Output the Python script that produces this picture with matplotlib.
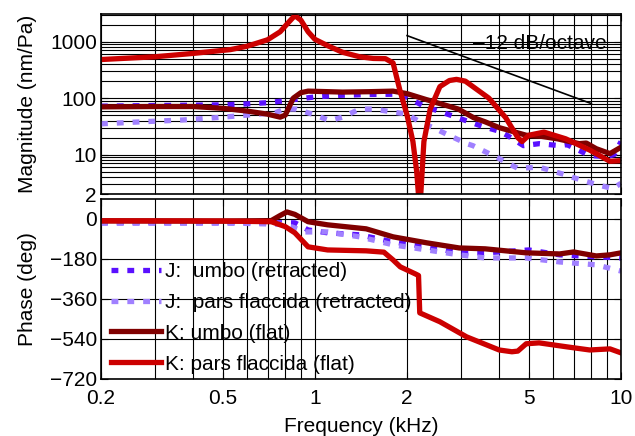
## Magnitude and phase of tympanic membrane responses
import numpy as np
import matplotlib
matplotlib.use('Agg')
import matplotlib.pyplot as plt
from matplotlib.ticker import FixedLocator, NullFormatter, FixedFormatter

plt.rcParams['font.family'] = ['Liberation Sans', 'DejaVu Sans']
plt.rcParams['font.size'] = 15

## Data (frequency in kHz)
labels = ['J:  umbo (retracted)', 'J:  pars flaccida (retracted)',
          'K: umbo (flat)', 'K: pars flaccida (flat)']

# magnitude (nm/Pa)
f_ju = [0.2, 0.3, 0.4, 0.5, 0.6, 0.7, 0.8, 0.9, 1.0, 1.2, 1.5, 1.8, 2.0, 2.27, 2.56,
        2.96, 3.56, 4.0, 4.24, 4.8, 5.4, 6.3, 6.66, 7.9, 9.0, 9.5, 10.0]
m_ju = [72, 74, 75, 76, 79, 83, 90, 98, 105, 112, 116, 117, 104, 72, 58,
        44, 31, 26, 22, 14.4, 15.6, 14.4, 15, 9.6, 9.2, 10, 17]

f_jp = [0.2, 0.27, 0.37, 0.5, 0.6, 0.74, 0.8, 0.87, 0.98, 1.12, 1.23, 1.4, 1.55, 1.75,
        2.0, 2.2, 2.43, 2.67, 3.13, 3.28, 4.0, 4.6, 5.4, 6.66, 7.0, 8.5, 9.4, 10.0]
m_jp = [35, 38, 41, 46, 50, 55, 64, 64, 52, 40, 46, 64, 64, 58,
        52, 38, 30, 23.5, 15.6, 14.4, 8.5, 5.7, 6.0, 4.3, 3.9, 2.85, 2.5, 3.1]

f_ku = [0.2, 0.3, 0.4, 0.5, 0.6, 0.7, 0.77, 0.8, 0.85, 0.9, 0.95, 1.0, 1.23, 1.5,
        1.8, 2.0, 2.3, 2.56, 2.94, 3.3, 3.6, 4.0, 4.9, 5.5, 6.2, 7.3, 7.7, 8.3, 9.2, 10.0]
m_ku = [70, 71, 71, 66, 59, 52, 46, 50, 100, 125, 133, 132, 128, 130,
        133, 120, 95, 80, 64, 45, 38, 30, 22, 21, 19, 15.6, 16, 12.7, 10.4, 13.5]

f_kp = [0.2, 0.3, 0.4, 0.53, 0.6, 0.7, 0.77, 0.82, 0.86, 0.9, 0.95, 1.0, 1.1, 1.23,
        1.4, 1.55, 1.7, 1.8, 1.9, 2.0, 2.09, 2.15, 2.2, 2.24, 2.27, 2.38, 2.56, 2.75,
        2.9, 3.1, 3.7, 4.2, 4.6, 4.75, 5.0, 5.6, 6.6, 7.9, 9.2, 10.0]
m_kp = [483, 540, 620, 724, 830, 1080, 1500, 2200, 2900, 2400, 1500, 1100, 850, 650,
        540, 505, 500, 420, 130, 50, 17, 5, 1.0, 5, 17, 64, 160, 205,
        215, 200, 100, 45, 20, 17, 22, 25, 19, 12, 7.6, 7.8]

# phase (deg)
pf_ju = [0.2, 0.5, 0.86, 0.95, 1.1, 1.4, 1.8, 2.32, 2.96, 3.6, 5.0, 6.3, 8.3, 10.0]
p_ju = [-18, -18, -18, -50, -63, -72, -104, -126, -153, -153, -140, -162, -171, -176]

pf_jp = [0.2, 0.5, 0.8, 0.93, 1.1, 1.4, 1.8, 2.32, 2.96, 3.6, 4.9, 6.3, 8.3, 10.0]
p_jp = [-18, -18, -25, -59, -59, -81, -117, -140, -162, -176, -176, -194, -207, -235]

pf_ku = [0.2, 0.5, 0.72, 0.77, 0.81, 0.86, 0.95, 1.1, 1.47, 1.8, 2.32, 2.96, 3.6,
         4.9, 6.3, 7.0, 8.3, 9.2, 10.0]
p_ku = [-9, -10, -8, 15, 31, 20, -13, -27, -45, -81, -108, -131, -135,
        -153, -158, -149, -167, -162, -153]

pf_kp = [0.2, 0.5, 0.72, 0.8, 0.86, 0.95, 1.1, 1.47, 1.68, 1.8, 1.9, 2.13, 2.18, 2.2,
         2.56, 3.13, 4.0, 4.4, 4.6, 4.9, 5.4, 6.66, 7.9, 9.2, 10.0]
p_kp = [-9, -10, -13, -35, -63, -126, -140, -144, -150, -185, -216, -248, -255, -423,
        -463, -531, -590, -598, -595, -562, -558, -576, -590, -585, -603]

# slope guide line
f_slope = [2.0, 8.0]
m_slope = [1280, 80]

## Styles
colors = ['#5a10ff', '#a080ff', '#800000', '#cc0000']
dots = (0, (1.3, 1.7))
styles = [dots, dots, '-', '-']
lw = 3.8

## Figure
fig = plt.figure(figsize=(6.35, 4.36), dpi=100)
ax1 = fig.add_axes([0.159, 0.555, 0.819, 0.413])
ax2 = fig.add_axes([0.159, 0.131, 0.819, 0.413])

mags = [(f_ju, m_ju), (f_jp, m_jp), (f_ku, m_ku), (f_kp, m_kp)]
phases = [(pf_ju, p_ju), (pf_jp, p_jp), (pf_ku, p_ku), (pf_kp, p_kp)]

for i in range(4):
    ax1.plot(mags[i][0], mags[i][1], color=colors[i], linestyle=styles[i], lw=lw)
    ax2.plot(phases[i][0], phases[i][1], color=colors[i], linestyle=styles[i], lw=lw,
             label=labels[i])

ax1.plot(f_slope, m_slope, color='black', lw=1.2)
ax1.text(9.0, 930, '\u201312 dB/octave', ha='right', va='center', fontsize=15,
         zorder=5)

xmaj = [0.2, 0.5, 1, 2, 5, 10]
xmin = [0.3, 0.4, 0.6, 0.7, 0.8, 0.9, 3, 4, 6, 7, 8, 9]

for ax in (ax1, ax2):
    ax.set_xscale('log')
    ax.set_xlim(0.2, 10)
    ax.xaxis.set_major_locator(FixedLocator(xmaj))
    ax.xaxis.set_minor_locator(FixedLocator(xmin))
    ax.xaxis.set_minor_formatter(NullFormatter())
    ax.tick_params(which='both', direction='in', top=True, right=True, pad=3)
    ax.tick_params(which='major', length=5)
    ax.tick_params(which='minor', length=3)
    ax.grid(True, which='both', axis='x', color='black', lw=0.8)
    for s in ax.spines.values():
        s.set_linewidth(1.2)

ax1.set_yscale('log')
ax1.set_ylim(2, 3100)
ax1.yaxis.set_major_locator(FixedLocator([2, 10, 100, 1000]))
ax1.yaxis.set_major_formatter(FixedFormatter(['2', '10', '100', '1000']))
ylog_minor = [v * d for d in (1, 10, 100, 1000) for v in range(2, 10)]
ax1.yaxis.set_minor_locator(FixedLocator(ylog_minor))
ax1.yaxis.set_minor_formatter(NullFormatter())
ax1.grid(True, which='both', axis='y', color='black', lw=0.8)
ax1.set_xticklabels([])
ax1.set_ylabel('Magnitude (nm/Pa)', labelpad=9)

ax2.set_ylim(-720, 90)
ax2.set_yticks([0, -180, -360, -540, -720])
ax2.set_yticklabels(['0', '\u2212180', '\u2212360', '\u2212540', '\u2212720'])
ax2.grid(True, which='major', axis='y', color='black', lw=0.8)
ax2.set_xticklabels(['0.2', '0.5', '1', '2', '5', '10'])
ax2.tick_params(axis='x', which='major', pad=7)
ax2.set_xlabel('Frequency (kHz)', labelpad=7)
ax2.set_ylabel('Phase (deg)', labelpad=9)
ax2.legend(loc='lower left', bbox_to_anchor=(-0.005, -0.04), frameon=False,
           handlelength=2.4, handletextpad=0.2, labelspacing=0.57,
           borderaxespad=0.2, fontsize=15)

fig.align_ylabels([ax1, ax2])
plt.savefig('out.png', dpi=100)
